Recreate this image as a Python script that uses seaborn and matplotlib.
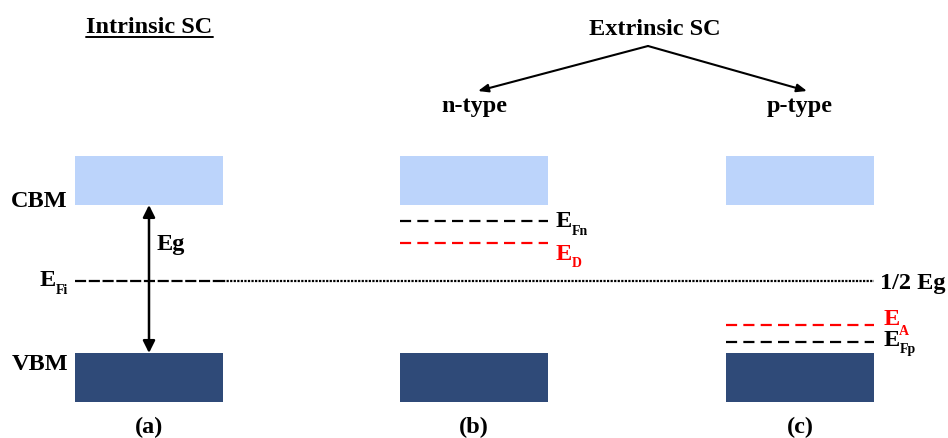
import matplotlib
matplotlib.use("Agg")
import matplotlib.pyplot as plt
import seaborn as sns
import pandas as pd

# ---- data (diagram units: x across, y energy-screen position, downward) ----
panel_labels = ["(a)", "(b)", "(c)"]
panel_left = [75, 400, 726]
panel_width = [148, 148, 148]
cbm_band = [157, 206]          # top / bottom of conduction band box
vbm_band = [354, 403]          # top / bottom of valence band box
midgap = 282                   # intrinsic Fermi level (1/2 Eg)
level_names = ["E_Fn", "E_D", "E_A", "E_Fp"]
level_panel = [1, 1, 2, 2]
level_y = [222, 244, 326, 343]
level_color = ["black", "red", "red", "black"]
sub_text = ["Fn", "D", "A", "Fp"]

col_cbm = "#bcd4fb"
col_vbm = "#2f4a78"

sns.set_theme(style="white")
plt.rcParams["font.family"] = ["Liberation Serif", "DejaVu Serif"]
plt.rcParams["font.weight"] = "bold"
plt.rcParams["text.color"] = "black"

fig = plt.figure(figsize=(9.48, 4.39), dpi=100)
ax = fig.add_axes([0, 0, 1, 1])
ax.set_xlim(0, 948)
ax.set_ylim(439, 0)
ax.axis("off")

FS = 17.5
SFS = 10


def txt(x, y, s, size=FS, color="black", ha="left"):
    ax.text(x, y, s, fontsize=size, color=color, ha=ha, va="baseline",
            fontweight="bold")


# bands
bands = pd.DataFrame({
    "left": panel_left * 2,
    "width": panel_width * 2,
    "top": [cbm_band[0]] * 3 + [vbm_band[0]] * 3,
    "height": [cbm_band[1] - cbm_band[0]] * 3 + [vbm_band[1] - vbm_band[0]] * 3,
    "color": [col_cbm] * 3 + [col_vbm] * 3,
})
ax.bar(bands["left"], bands["height"], width=bands["width"], bottom=bands["top"],
       color=bands["color"], align="edge", linewidth=0)

# intrinsic Fermi level: dashed in panel (a), dotted across
a_l, a_r = panel_left[0], panel_left[0] + panel_width[0]
c_r = panel_left[2] + panel_width[2]
sns.lineplot(x=[a_l, a_r], y=[midgap, midgap], ax=ax, color="black", lw=1.6,
             linestyle=(0, (5, 1.2)))
ax.plot([a_r, c_r], [midgap, midgap], color="black", lw=1.6, linestyle=(0, (1, 0.6)))

# extrinsic levels and labels (E + subscript)
e_base = [227, 260, 325, 346]
s_dx = [16, 16, 15, 16]
s_base = [235, 267, 335, 353]
for p, y, c, s, eb, sdx, sb in zip(level_panel, level_y, level_color, sub_text,
                                   e_base, s_dx, s_base):
    l = panel_left[p]
    r = l + panel_width[p]
    ax.plot([l, r], [y, y], color=c, lw=1.6, linestyle=(0, (5, 2.8)))
    ex = r + 8 if p == 1 else r + 10
    txt(ex, eb, "E", color=c)
    txt(ex + sdx, sb, s, size=SFS, color=c)

# Eg double arrow
xc = panel_left[0] + panel_width[0] / 2
ax.annotate("", xy=(xc, cbm_band[1]), xytext=(xc, vbm_band[0]),
            arrowprops=dict(arrowstyle="<|-|>,head_length=0.6,head_width=0.3",
                            color="black", lw=1.8, shrinkA=0, shrinkB=0))
txt(xc + 8, 250, "Eg")

# left labels
txt(68, 207, "CBM", ha="right")
txt(68, 370, "VBM", ha="right")
txt(40, 286, "E")
txt(56, 294, "Fi", size=SFS)
txt(c_r + 6, 289, "1/2 Eg")

# titles
txt(xc, 33, "Intrinsic SC", ha="center")
ax.plot([86, 213], [38, 38], color="black", lw=1.4)
txt(655, 35, "Extrinsic SC", ha="center")
centers = [l + w / 2 for l, w in zip(panel_left, panel_width)]
txt(centers[1], 112, "n-type", ha="center")
txt(centers[2], 112, "p-type", ha="center")
for tx in (centers[1] + 4, centers[2] + 7):
    ax.annotate("", xy=(tx, 92), xytext=(648, 47),
                arrowprops=dict(arrowstyle="-|>,head_length=0.5,head_width=0.2",
                                color="black", lw=1.5, shrinkA=0, shrinkB=0))

for lab, cx in zip(panel_labels, centers):
    txt(cx, 433, lab, ha="center")

fig.savefig("out.png", dpi=100)
